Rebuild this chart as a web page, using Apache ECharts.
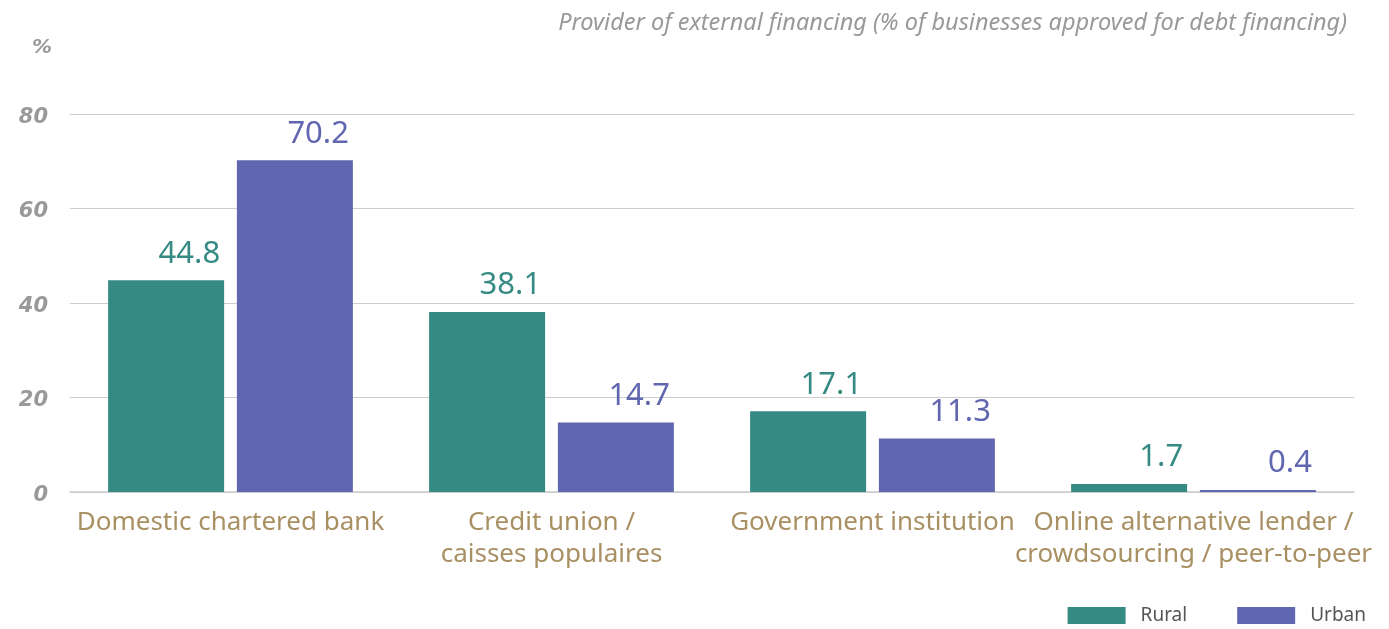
<!DOCTYPE html>
<html>
<head>
<meta charset="utf-8">
<script src="https://cdn.jsdelivr.net/npm/echarts@6/dist/echarts.min.js"></script>
<style>
  html, body { margin: 0; padding: 0; background: #fff; }
  #chart { width: 1389px; height: 629px; }
</style>
</head>
<body>
<div id="chart"></div>
<script>
const categories = [
  "Domestic chartered bank",
  "Credit union /\ncaisses populaires",
  "Government institution",
  "Online alternative lender /\ncrowdsourcing / peer-to-peer"
];
const rural = [44.8, 38.1, 17.1, 1.7];
const urban = [70.2, 14.7, 11.3, 0.4];
const yTicks = [0, 20, 40, 60, 80];

const FONT = "'Noto Sans', 'Open Sans', sans-serif";
const AXIS_FONT = "'DejaVu Sans', sans-serif";
const TEAL = "#358b83";
const PURPLE = "#6066b0";

const chart = echarts.init(document.getElementById("chart"), null, { renderer: "canvas" });

function barLabel(color) {
  return {
    show: true,
    position: "top",
    align: "right",
    offset: [54, -6],
    color: color,
    fontFamily: FONT,
    fontSize: 31,
    formatter: (p) => p.value.toFixed(1)
  };
}

chart.setOption({
  animation: false,
  title: [
    {
      text: "Provider of external financing (% of businesses approved for debt financing)",
      right: 37,
      top: 7,
      textStyle: { color: "#999", fontStyle: "italic", fontWeight: "normal", fontSize: 23.5, fontFamily: FONT }
    },
    {
      text: "%",
      left: 27,
      top: 33,
      textStyle: { color: "#999", fontStyle: "italic", fontWeight: "bold", fontSize: 20, fontFamily: AXIS_FONT }
    }
  ],
  grid: { left: 70, right: 35, top: 114, bottom: 137 },
  legend: {
    data: ["Rural", "Urban"],
    right: 18,
    top: 601,
    itemWidth: 58,
    itemHeight: 17,
    itemGap: 50,
    icon: "rect",
    textStyle: { color: "#555", fontSize: 19, fontFamily: FONT, padding: [0, 0, 0, 10] }
  },
  xAxis: {
    type: "category",
    data: categories,
    axisLine: { lineStyle: { color: "#ccc", width: 1.5 } },
    axisTick: {
      inside: true,
      length: 5,
      lineStyle: { color: "#ccc" },
      interval: (i) => i > 0
    },
    axisLabel: {
      interval: 0,
      margin: 15,
      color: "#a89063",
      fontSize: 26,
      lineHeight: 32,
      fontFamily: FONT
    }
  },
  yAxis: {
    type: "value",
    min: yTicks[0],
    max: yTicks[yTicks.length - 1],
    interval: 20,
    axisLine: { show: false },
    axisTick: { show: false },
    splitLine: { lineStyle: { color: "#ccc", width: 1 } },
    axisLabel: {
      margin: 22,
      verticalAlign: "top",
      lineHeight: 7,
      color: "#999",
      fontStyle: "italic",
      fontWeight: "bold",
      fontSize: 21,
      fontFamily: AXIS_FONT
    }
  },
  series: [
    {
      name: "Rural",
      type: "bar",
      data: rural,
      barWidth: 116,
      barGap: "11%",
      itemStyle: { color: TEAL },
      label: barLabel(TEAL)
    },
    {
      name: "Urban",
      type: "bar",
      data: urban,
      barWidth: 116,
      itemStyle: { color: PURPLE },
      label: barLabel(PURPLE)
    }
  ]
});
</script>
</body>
</html>
